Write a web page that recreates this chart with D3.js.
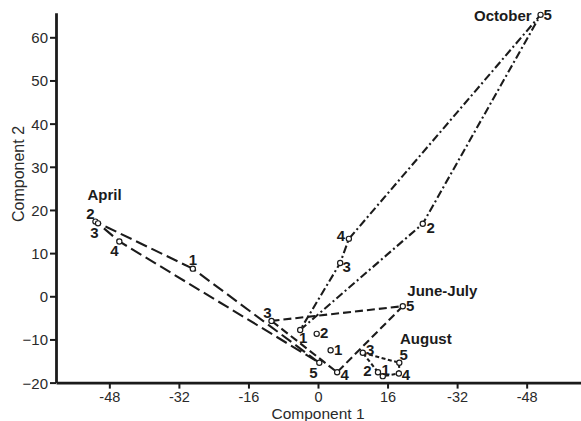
<!DOCTYPE html>
<html>
<head>
<meta charset="utf-8">
<script src="https://cdn.jsdelivr.net/npm/d3@7/dist/d3.min.js"></script>
<style>
  html, body { margin: 0; padding: 0; background: #fff; }
  svg { display: block; font-family: "Liberation Sans", Arial, Helvetica, sans-serif; }
</style>
</head>
<body>
<svg id="chart" width="581" height="421"></svg>
<script>
// ---------- data ----------
const months = ["April", "June-July", "August", "October"];
const siteLabels = ["1", "2", "3", "4", "5"];

const aprilC1 = [-28.8, -51.2, -50.6, -45.7, 0.3];
const aprilC2 = [6.4, 17.3, 16.9, 12.7, -15.4];
const juneJulyC1 = [2.9, -0.3, -10.7, 4.4, 19.5];
const juneJulyC2 = [-12.5, -8.7, -5.7, -17.6, -2.3];
const augustC1 = [14.9, 13.8, 10.3, 18.6, 18.7];
const augustC2 = [-18.5, -17.6, -13.1, -17.9, -15.4];
const octoberC1 = [-4.1, 24.1, 5.1, 7.1, 51.2];
const octoberC2 = [-7.8, 16.8, 7.7, 13.3, 65.2];

// outline connection order (site numbers)
const aprilOutline = [1, 2, 3, 4, 5, 1];
const juneJulyOutline = [3, 5, 4, 3];
const augustOutline = [3, 5, 4, 1, 2, 3];
const octoberOutline = [1, 2, 5, 4, 3, 1];

const xTickValues = [-48, -32, -16, 0, 16, 32, 48];
const xTickLabels = ["-48", "-32", "-16", "0", "16", "-32", "-48"];
const yTickValues = [-20, -10, 0, 10, 20, 30, 40, 50, 60];
const xTitle = "Component 1";
const yTitle = "Component 2";

// ---------- layout / style (not data) ----------
const dashes = ["12,5", "8,4", "4,2.5", "8,3,2,3"];
// label offsets [dx, dy] per site (text-anchor middle, relative to point)
const labelOffsets = [
  [[0, -4], [-5, -3], [-3.5, 15], [-5, 15], [-6, 15]],
  [[7.5, 4.5], [7.5, 4], [-4, -3], [7.5, 7.5], [7.5, 5]],
  [[3, -1.5], [-10.5, 4], [7.5, 2.5], [7, 6], [4.5, -2.5]],
  [[3, 13.5], [8, 9], [6.5, 8.5], [-8, 2.5], [7, 5]]
];
// month title: site index, dx, dy, anchor
const titleAnchors = [
  [1, -8, -22, "start"],
  [4, 4.6, -10.7, "start"],
  [4, 0.7, -18.3, "start"],
  [4, -9, 6, "end"]
];

const seriesC1 = [aprilC1, juneJulyC1, augustC1, octoberC1];
const seriesC2 = [aprilC2, juneJulyC2, augustC2, octoberC2];
const outlines = [aprilOutline, juneJulyOutline, augustOutline, octoberOutline];

const svg = d3.select("#chart");
const ink = "#1b1b1b";

const x = d3.scaleLinear().domain([-60.27, 60.5]).range([56, 581]);
const y = d3.scaleLinear().domain([-20, 65.7]).range([382.6, 12.7]);

// ---------- axes ----------
const xAxis = d3.axisBottom(x)
  .tickValues(xTickValues)
  .tickFormat((d, i) => xTickLabels[i])
  .tickSize(6).tickSizeOuter(0).tickPadding(3);
const gx = svg.append("g").attr("transform", `translate(0,${y(-20)})`).call(xAxis);

const yAxis = d3.axisLeft(y)
  .tickValues(yTickValues)
  .tickFormat(d3.format("d"))
  .tickSize(6).tickSizeOuter(0).tickPadding(2);
const gy = svg.append("g").attr("transform", `translate(${x(-60.27)},0)`).call(yAxis);

[gx, gy].forEach(g => {
  g.select(".domain").attr("stroke", ink).attr("stroke-width", 2.8);
  g.selectAll(".tick line").attr("stroke", ink).attr("stroke-width", 2);
  g.selectAll(".tick text").attr("fill", "#2a2a2a").style("font-size", "15px")
    .style("font-family", "'Liberation Sans', Arial, sans-serif");
});
gx.selectAll(".tick text").style("font-size", "14.5px").attr("dy", "0.71em");
gy.selectAll(".tick text").attr("dy", "0.36em");

svg.append("text")
  .attr("x", x(0)).attr("y", 418.5)
  .attr("text-anchor", "middle")
  .attr("fill", "#2a2a2a")
  .style("font-size", "15.5px")
  .text(xTitle);

svg.append("text")
  .attr("transform", "translate(24,174) rotate(-90)")
  .attr("text-anchor", "middle")
  .attr("fill", "#2a2a2a")
  .style("font-size", "16px")
  .text(yTitle);

// ---------- outlines ----------
const line = d3.line().x(d => x(d[0])).y(d => y(d[1]));
months.forEach((m, k) => {
  const pts = outlines[k].map(s => [seriesC1[k][s - 1], seriesC2[k][s - 1]]);
  svg.append("path")
    .attr("d", line(pts))
    .attr("fill", "none")
    .attr("stroke", ink)
    .attr("stroke-width", 2.1)
    .attr("stroke-dasharray", dashes[k]);
});

// ---------- points and labels ----------
months.forEach((m, k) => {
  const g = svg.append("g");
  siteLabels.forEach((lab, i) => {
    const px = x(seriesC1[k][i]), py = y(seriesC2[k][i]);
    g.append("circle")
      .attr("cx", px).attr("cy", py).attr("r", 2.6)
      .attr("fill", "#fff").attr("stroke", ink).attr("stroke-width", 1.2);
    g.append("text")
      .attr("x", px + labelOffsets[k][i][0])
      .attr("y", py + labelOffsets[k][i][1])
      .attr("text-anchor", "middle")
      .attr("fill", ink)
      .style("font-size", "15px")
      .style("font-weight", "bold")
      .text(lab);
  });
  const t = titleAnchors[k];
  const tx = x(seriesC1[k][t[0]]), ty = y(seriesC2[k][t[0]]);
  g.append("text")
    .attr("x", tx + t[1]).attr("y", ty + t[2])
    .attr("text-anchor", t[3])
    .attr("fill", ink)
    .style("font-size", "15px")
    .style("font-weight", "bold")
    .text(m);
});
</script>
</body>
</html>
